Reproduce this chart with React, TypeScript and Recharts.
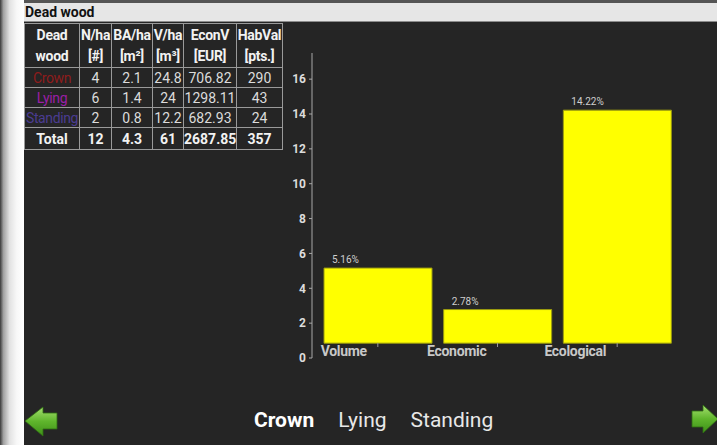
import { BarChart, Bar, XAxis, YAxis, LabelList } from "recharts";

const categories = ["Volume", "Economic", "Ecological"];
const shares = [5.16, 2.78, 14.22];
const barBase = 0.85;
const yTicks = [0, 2, 4, 6, 8, 10, 12, 14, 16];

const tableHead = [
  ["Dead", "wood"],
  ["N/ha", "[#]"],
  ["BA/ha", "[m²]"],
  ["V/ha", "[m³]"],
  ["EconV", "[EUR]"],
  ["HabVal", "[pts.]"],
];
const rowNames = ["Crown", "Lying", "Standing"];
const rowColors = ["#8e1c1c", "#9a1fa6", "#4b3c91"];
const nPerHa = [4, 6, 2];
const baPerHa = [2.1, 1.4, 0.8];
const vPerHa = [24.8, 24, 12.2];
const econV = [706.82, 1298.11, 682.93];
const habVal = [290, 43, 24];
const totals = ["Total", "12", "4.3", "61", "2687.85", "357"];
const tabs = ["Crown", "Lying", "Standing"];

const data = categories.map((name, i) => ({ name, range: [barBase, shares[i]], share: shares[i] }));

const bg = "#252525";
const font = "Roboto, 'Noto Sans', sans-serif";
const colW = [55, 32, 41, 31, 53, 46];

const cell = { border: "1px solid #9a9a9a", padding: 0, textAlign: "center" as const, whiteSpace: "nowrap" as const, overflow: "visible" as const };

function CatTick(props: any) {
  const { x, y, payload } = props;
  return (
    <g>
      <line x1={x} x2={x} y1={y - 15} y2={y - 11} stroke="#999" />
      <text x={x - 11} y={y - 2} textAnchor="end" fill="#c8c8c8" fontSize={14} fontWeight="bold" fontFamily={font} letterSpacing={-0.3}>
        {payload.value}
      </text>
    </g>
  );
}

function PctLabel(props: any) {
  const { x, y, index } = props;
  return (
    <text x={x + 8} y={y - 5} fill="#cfcfcf" fontSize={10} fontFamily={font}>
      {shares[index].toFixed(2)}%
    </text>
  );
}

function Arrow({ dir }: { dir: "left" | "right" }) {
  const pts = dir === "left"
    ? "25,421 43,407 43,413 57,413 57,429 43,429 43,436"
    : "692,411 703,411 703,405 718,419 703,433 703,427 692,427";
  return <polygon points={pts} fill={`url(#g-${dir})`} stroke="#2f6d12" strokeWidth={0.8} />;
}

export default function App() {
  return (
    <div style={{ position: "fixed", left: 0, top: 0, width: 717, height: 445, background: bg, overflow: "hidden", fontFamily: font }}>
      <div style={{ position: "absolute", left: 0, top: 0, width: 24, height: 445, background: "linear-gradient(to right, #3a3a3a 0%, #a0a0a0 14%, #e2e2e2 40%, #f8f8f8 70%, #ffffff 100%)" }} />
      <div style={{ position: "absolute", left: 24, top: 0, width: 693, height: 3, background: "#555" }} />
      <div style={{ position: "absolute", left: 24, top: 3, width: 693, height: 19, background: "#e6e6e6", borderBottom: "1px solid #8c8c8c", fontWeight: "bold", fontSize: 14, lineHeight: "18px", color: "#111", paddingLeft: 1, boxSizing: "border-box" as const }}>
        Dead wood
      </div>

      <table style={{ position: "absolute", left: 24, top: 23, width: 259, height: 127, borderCollapse: "collapse", tableLayout: "fixed", fontSize: 14, color: "#dcdcdc" }}>
        <colgroup>
          {colW.map((w, i) => <col key={i} style={{ width: w }} />)}
        </colgroup>
        <tbody>
          <tr style={{ height: 44 }}>
            {tableHead.map((h, i) => (
              <td key={i} style={{ ...cell, fontWeight: "bold", color: "#f2f2f2", lineHeight: "21px", letterSpacing: -0.3 }}>
                {h[0]}<br />{h[1]}
              </td>
            ))}
          </tr>
          {rowNames.map((r, i) => (
            <tr key={r} style={{ height: 20 }}>
              <td style={{ ...cell, color: rowColors[i], letterSpacing: -0.4 }}>{r}</td>
              <td style={cell}>{nPerHa[i]}</td>
              <td style={cell}>{baPerHa[i]}</td>
              <td style={cell}>{vPerHa[i]}</td>
              <td style={cell}>{econV[i]}</td>
              <td style={cell}>{habVal[i]}</td>
            </tr>
          ))}
          <tr style={{ height: 22 }}>
            {totals.map((t, i) => (
              <td key={i} style={{ ...cell, fontWeight: "bold", color: "#f2f2f2" }}>{t}</td>
            ))}
          </tr>
        </tbody>
      </table>

      <div style={{ position: "absolute", left: 260, top: 40 }}>
        <BarChart width={440} height={338} data={data} margin={{ top: 13, right: 23, bottom: 0, left: 0 }} barSize={108}>
          <XAxis dataKey="name" axisLine={false} tickLine={false} tickSize={0} tickMargin={0} height={20} padding={{ left: 6, right: 0 }} tick={<CatTick />} interval={0} />
          <YAxis
            domain={[0, 17.5]}
            ticks={yTicks}
            width={52}
            tickSize={3}
            tickMargin={3}
            axisLine={{ stroke: "#a8a8a8" }}
            tickLine={{ stroke: "#a8a8a8" }}
            tick={{ fill: "#dcdcdc", fontSize: 12, fontWeight: "bold", fontFamily: font }}
          />
          <Bar dataKey="range" fill="#ffff00" stroke="#9a9a10" strokeWidth={1} isAnimationActive={false}>
            <LabelList dataKey="share" content={<PctLabel />} />
          </Bar>
        </BarChart>
      </div>

      <svg width={717} height={445} style={{ position: "absolute", left: 0, top: 0, pointerEvents: "none" }}>
        <defs>
          <linearGradient id="g-left" x1="0" y1="0" x2="0" y2="1">
            <stop offset="0%" stopColor="#a6e070" />
            <stop offset="50%" stopColor="#5fb52c" />
            <stop offset="100%" stopColor="#3d8f18" />
          </linearGradient>
          <linearGradient id="g-right" x1="0" y1="0" x2="0" y2="1">
            <stop offset="0%" stopColor="#a6e070" />
            <stop offset="50%" stopColor="#5fb52c" />
            <stop offset="100%" stopColor="#3d8f18" />
          </linearGradient>
        </defs>
        <Arrow dir="left" />
        <Arrow dir="right" />
      </svg>

      <div style={{ position: "absolute", left: 254, top: 406, fontSize: 21, color: "#f0f0f0", whiteSpace: "nowrap", lineHeight: "28px" }}>
        {tabs.map((t, i) => (
          <span key={t} style={{ fontWeight: i === 0 ? "bold" : "normal", color: i === 0 ? "#ffffff" : "#e8e8e8", marginRight: 24 }}>{t}</span>
        ))}
      </div>
    </div>
  );
}
